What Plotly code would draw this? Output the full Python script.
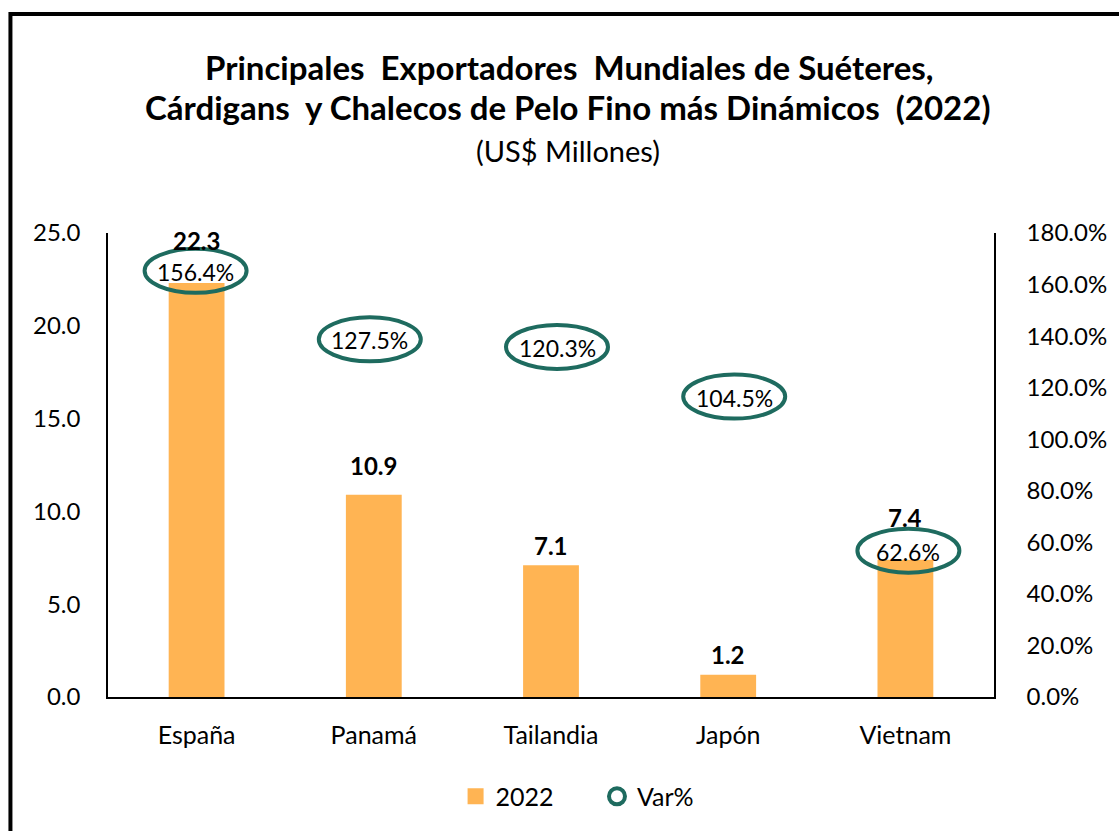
import plotly.graph_objects as go

categories = ["España", "Panamá", "Tailandia", "Japón", "Vietnam"]
exports_2022 = [22.3, 10.9, 7.1, 1.2, 7.4]
var_pct = [156.4, 127.5, 120.3, 104.5, 62.6]
y_ticks = [0, 5, 10, 15, 20, 25]
y2_ticks = [0, 20, 40, 60, 80, 100, 120, 140, 160, 180]

title_line1 = "Principales  Exportadores  Mundiales de Suéteres,"
title_line2 = "Cárdigans  y Chalecos de Pelo Fino más Dinámicos  (2022)"
subtitle = "(US$ Millones)"

# label placement (pixel offsets, as manually placed in the original)
bar_label_shift = [43, 29, 20, 20, 42]
var_label_yshift = [23, 29, 40, 31, -15]
var_label_xshift = [-1, -4, 6, 6, 3]

ORANGE = "#FFB453"
TEAL = "#1E6B5F"
FONT = "Lato"

fig = go.Figure()
fig.add_trace(go.Bar(
    x=categories, y=exports_2022, name="2022",
    marker=dict(color=ORANGE, line=dict(width=0)),
    width=0.315, yaxis="y", showlegend=False,
))
fig.add_trace(go.Scatter(
    x=categories, y=var_pct, name="Var%", yaxis="y2",
    mode="markers", marker=dict(opacity=0, size=1), showlegend=False,
))
# legend entries
fig.add_trace(go.Scatter(
    x=[None], y=[None], name="2022" + "\u00a0" * 6, yaxis="y", mode="markers",
    marker=dict(symbol="square", size=18, color=ORANGE),
))
fig.add_trace(go.Scatter(
    x=[None], y=[None], name="Var%", yaxis="y2", mode="markers",
    marker=dict(symbol="circle-open", size=21, color=TEAL, line=dict(width=4, color=TEAL)),
))

annotations = []
shapes = []
for i, c in enumerate(categories):
    annotations.append(dict(
        x=c, y=exports_2022[i], xref="x", yref="y", text=f"<b>{exports_2022[i]:.1f}</b>",
        showarrow=False, yshift=bar_label_shift[i], font=dict(size=24, color="black", family=FONT),
    ))
    annotations.append(dict(
        x=c, y=var_pct[i], xref="x", yref="y2", text=f"{var_pct[i]:.1f}%",
        showarrow=False, yshift=var_label_yshift[i] - 1, xshift=var_label_xshift[i],
        font=dict(size=23, color="black", family=FONT),
    ))
    dx = var_label_xshift[i]
    dy = var_label_yshift[i]
    shapes.append(dict(
        type="circle", xref="x", yref="y2", xsizemode="pixel", ysizemode="pixel",
        xanchor=c, yanchor=var_pct[i],
        x0=dx - 51, x1=dx + 51, y0=dy - 22, y1=dy + 22,
        line=dict(color=TEAL, width=4), layer="above",
    ))

# title block
annotations.append(dict(x=0.521, y=(697 - 67) / 464, xref="paper", yref="paper", showarrow=False,
                        yanchor="middle", text=f"<b>{title_line1}</b>",
                        font=dict(size=33, family=FONT, color="black")))
annotations.append(dict(x=0.519, y=(697 - 107) / 464, xref="paper", yref="paper", showarrow=False,
                        yanchor="middle", text=f"<b>{title_line2}</b>",
                        font=dict(size=33, family=FONT, color="black")))
annotations.append(dict(x=0.519, y=(697 - 150) / 464, xref="paper", yref="paper", showarrow=False,
                        yanchor="middle", text=subtitle, font=dict(size=29, family=FONT, color="black")))

# outer frame of the chart
shapes.append(dict(
    type="rect", xref="paper", yref="paper",
    x0=(10 - 108) / 890, x1=(1140 - 108) / 890,
    y0=(697 - 850) / 464, y1=(697 - 14) / 464,
    line=dict(color="black", width=4), fillcolor="rgba(0,0,0,0)", layer="below",
))

fig.update_layout(
    width=1119, height=831,
    margin=dict(l=108, r=121, t=233, b=134),
    paper_bgcolor="white", plot_bgcolor="white",
    font=dict(family=FONT, size=24, color="black"),
    xaxis=dict(
        showline=True, linecolor="black", linewidth=1.5, ticks="",
        tickfont=dict(size=25), showgrid=False, mirror=False, ticklabelstandoff=15,
    ),
    yaxis=dict(
        range=[0, 25], tickvals=y_ticks, ticktext=[f"{v:.1f}" for v in y_ticks],
        showline=True, linecolor="black", linewidth=1.5, ticks="",
        showgrid=False, zeroline=False, tickfont=dict(size=24), ticklabelstandoff=21,
    ),
    yaxis2=dict(
        range=[0, 180], tickvals=y2_ticks, ticktext=[f"{v:.1f}%" for v in y2_ticks],
        overlaying="y", side="right",
        showline=True, linecolor="black", linewidth=1.5, ticks="",
        showgrid=False, zeroline=False, tickfont=dict(size=24), ticklabelstandoff=26,
    ),
    legend=dict(
        orientation="h", x=0.53, xanchor="center", y=-0.165, yanchor="top",
        font=dict(size=25), itemwidth=30, tracegroupgap=0,
    ),
    shapes=shapes, annotations=annotations,
    showlegend=True,
)

fig.write_html("out.html")
